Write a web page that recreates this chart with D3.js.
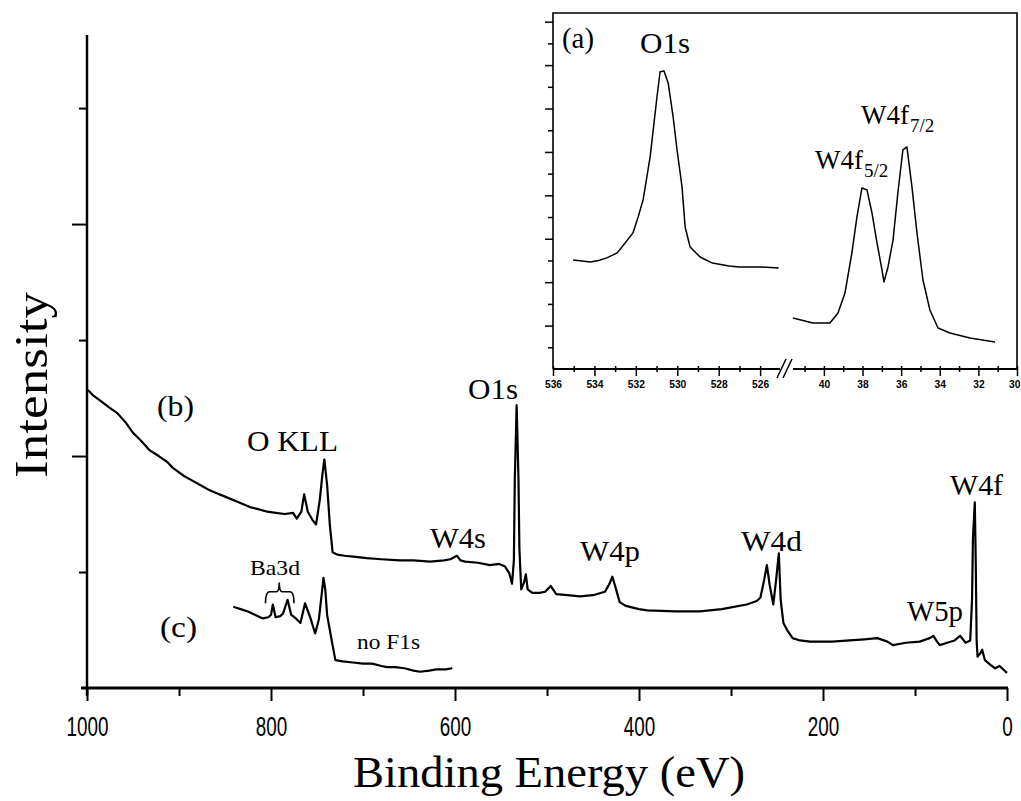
<!DOCTYPE html>
<html>
<head>
<meta charset="utf-8">
<script src="https://cdn.jsdelivr.net/npm/d3@7"></script>
<style>
body { margin: 0; background: #fff; }
svg { display: block; }
</style>
</head>
<body>
<div id="chart"></div>
<script>
// survey spectra: [binding energy (eV), intensity (arb. units)]
var surveyB = [
  [999, 2.57], [993, 2.52], [986, 2.48], [976, 2.42], [967, 2.37], [958, 2.29],
  [950, 2.20], [941, 2.13], [932, 2.05], [922, 2.00], [913, 1.95], [907, 1.90],
  [895, 1.83], [886, 1.79], [877, 1.75], [868, 1.71], [859, 1.68], [850, 1.65],
  [841, 1.62], [832, 1.59], [823, 1.56], [813, 1.54], [804, 1.52], [795, 1.51],
  [785, 1.50], [776, 1.51], [772, 1.46], [767, 1.52], [764, 1.67], [760, 1.52],
  [755, 1.45], [751, 1.41], [747, 1.62], [744, 1.85], [742, 1.97], [739, 1.75],
  [736, 1.40], [733, 1.17], [728, 1.15], [720, 1.14], [708, 1.13], [696, 1.12],
  [680, 1.11], [660, 1.10], [645, 1.10], [627, 1.09], [612, 1.10], [605, 1.11],
  [598, 1.14], [594, 1.10], [589, 1.09], [575, 1.08], [562, 1.06], [552, 1.07],
  [546, 1.05], [541, 0.99], [538, 0.90], [536, 1.10], [535, 1.80], [533, 2.44],
  [531, 1.80], [530, 1.20], [528, 0.85], [525, 0.91], [523, 0.98], [521, 0.85],
  [516, 0.82], [508, 0.82], [502, 0.83], [496, 0.88], [490, 0.81], [478, 0.80],
  [464, 0.79], [450, 0.80], [437, 0.83], [432, 0.90], [429, 0.96], [426, 0.88],
  [421, 0.74], [415, 0.71], [410, 0.70], [400, 0.68], [391, 0.67], [360, 0.66],
  [334, 0.66], [310, 0.68], [283, 0.72], [272, 0.75], [268, 0.78], [264, 0.93],
  [261, 1.06], [258, 0.89], [254, 0.72], [251, 0.93], [248, 1.16], [246, 0.76],
  [243, 0.56], [239, 0.50], [233, 0.43], [225, 0.41], [214, 0.40], [190, 0.40],
  [171, 0.41], [155, 0.42], [141, 0.43], [130, 0.40], [124, 0.37], [110, 0.39],
  [95, 0.40], [84, 0.43], [80, 0.45], [76, 0.40], [73, 0.37], [65, 0.39],
  [57, 0.41], [51, 0.45], [45, 0.39], [40, 0.41], [38, 0.76], [37, 1.30],
  [35, 1.60], [34, 1.10], [33, 0.41], [32, 0.27], [29, 0.30], [27, 0.33],
  [24, 0.24], [18, 0.20], [13, 0.17], [8, 0.19], [4, 0.16], [0, 0.13]
];
var surveyC = [
  [841, 0.70], [833, 0.68], [825, 0.66], [817, 0.63], [809, 0.60], [803, 0.61],
  [800, 0.63], [798, 0.72], [795, 0.61], [790, 0.62], [787, 0.64], [782, 0.76],
  [778, 0.63], [773, 0.60], [768, 0.56], [763, 0.73], [757, 0.60], [752, 0.47],
  [748, 0.59], [745, 0.80], [743, 0.95], [741, 0.85], [739, 0.63], [734, 0.41],
  [730, 0.24], [722, 0.23], [711, 0.22], [700, 0.21], [690, 0.21], [680, 0.19],
  [674, 0.18], [665, 0.18], [655, 0.17], [645, 0.15], [638, 0.14], [628, 0.15],
  [620, 0.16], [610, 0.16], [603, 0.17]
];
// inset (a): high resolution regions
var insetO1s = [
  [535.03, 5.02], [534.6, 4.98], [534.2, 4.93], [533.8, 5.00], [533.4, 5.12],
  [532.9, 5.35], [532.67, 5.62], [532.14, 6.27], [531.89, 7.00], [531.65, 7.79],
  [531.31, 9.77], [530.98, 12.53], [530.83, 13.69], [530.64, 13.73], [530.44, 13.18],
  [530.20, 11.61], [530.01, 10.09], [529.77, 8.39], [529.62, 6.54], [529.38, 5.62],
  [528.90, 5.16], [528.3, 4.88], [527.5, 4.75], [527.0, 4.70], [526.0, 4.70],
  [525.1, 4.65]
];
var insetW4f = [
  [41.6, 2.35], [40.57, 2.12], [39.69, 2.12], [39.27, 2.58], [38.91, 3.50],
  [38.55, 5.35], [38.29, 7.00], [38.03, 8.34], [37.77, 8.25], [37.51, 7.19],
  [37.25, 5.81], [36.99, 4.56], [36.89, 4.01], [36.68, 4.70], [36.42, 5.94],
  [36.17, 8.11], [35.91, 10.09], [35.70, 10.23], [35.44, 8.39], [35.18, 6.27],
  [34.87, 4.10], [34.51, 2.72], [34.09, 1.89], [33.47, 1.66], [32.44, 1.43],
  [31.14, 1.24]
];
var mainXMajor = [1000, 800, 600, 400, 200, 0];
var mainXMinor = [900, 700, 500, 300, 100];
var mainYMajor = [2, 4];
var mainYMinor = [1, 3, 5];
var insetYTicks = d3.range(1, 17);
var insetLeftTicks = d3.range(526, 537);
var insetRightTicks = d3.range(30, 42);

var W = 1021, H = 801;
var serif = '"Liberation Serif", "Times New Roman", serif';
var sans = '"Liberation Sans", Arial, sans-serif';

var svg = d3.select("#chart").append("svg")
    .attr("width", W)
    .attr("height", H);

// main plot scales
var x = d3.scaleLinear().domain([1000, 0]).range([87, 1007]);
var y = d3.scaleLinear().domain([0, 5.63]).range([688, 35]);

var line = d3.line()
    .x(function (d) { return x(d[0]); })
    .y(function (d) { return y(d[1]); });

// x axis: minor and major ticks
var xMinor = svg.append("g")
    .attr("transform", "translate(0," + y(0) + ")")
    .call(d3.axisBottom(x).tickValues(mainXMinor).tickSize(8).tickFormat(""));
var xMajor = svg.append("g")
    .attr("transform", "translate(0," + y(0) + ")")
    .call(d3.axisBottom(x).tickValues(mainXMajor).tickSize(13).tickPadding(16).tickFormat(d3.format("d")));
[xMinor, xMajor].forEach(function (g) {
    g.select(".domain").remove();
    g.selectAll(".tick line").attr("stroke", "#000").attr("stroke-width", 2);
});
xMajor.selectAll(".tick text")
    .attr("font-family", sans)
    .attr("font-size", 27)
    .attr("fill", "#000")
    .attr("textLength", function (d) { return String(d).length * 10.5; })
    .attr("lengthAdjust", "spacingAndGlyphs");

// y axis
var yMinor = svg.append("g")
    .attr("transform", "translate(" + x(1000) + ",0)")
    .call(d3.axisLeft(y).tickValues(mainYMinor).tickSize(8).tickFormat(""));
var yMajor = svg.append("g")
    .attr("transform", "translate(" + x(1000) + ",0)")
    .call(d3.axisLeft(y).tickValues(mainYMajor).tickSize(15).tickFormat(""));
[yMinor, yMajor].forEach(function (g) {
    g.select(".domain").remove();
    g.selectAll(".tick line").attr("stroke", "#000").attr("stroke-width", 2);
});

svg.append("line")
    .attr("x1", x(1000) - 6).attr("x2", x(0) + 1)
    .attr("y1", y(0)).attr("y2", y(0))
    .attr("stroke", "#000").attr("stroke-width", 3);
svg.append("line")
    .attr("x1", x(1000)).attr("x2", x(1000))
    .attr("y1", y(5.63)).attr("y2", y(0) + 8)
    .attr("stroke", "#000").attr("stroke-width", 2.5);

// spectra
svg.append("path").datum(surveyB)
    .attr("d", line)
    .attr("fill", "none").attr("stroke", "#000")
    .attr("stroke-width", 2.2).attr("stroke-linejoin", "round");
svg.append("path").datum(surveyC)
    .attr("d", line)
    .attr("fill", "none").attr("stroke", "#000")
    .attr("stroke-width", 2.2).attr("stroke-linejoin", "round");

// axis titles
svg.append("text")
    .attr("x", 549).attr("y", 787)
    .attr("text-anchor", "middle")
    .attr("font-family", serif).attr("font-size", 45)
    .attr("textLength", 392).attr("lengthAdjust", "spacingAndGlyphs")
    .text("Binding Energy (eV)");
svg.append("text")
    .attr("transform", "translate(47,385) rotate(-90)")
    .attr("text-anchor", "middle")
    .attr("font-family", serif).attr("font-size", 46)
    .attr("textLength", 186).attr("lengthAdjust", "spacingAndGlyphs")
    .text("Intensity");

// peak labels on the survey
function label(txt, px, py, size, len) {
    var t = svg.append("text")
        .attr("x", px).attr("y", py)
        .attr("font-family", serif).attr("font-size", size)
        .attr("fill", "#000")
        .text(txt);
    if (len) t.attr("textLength", len).attr("lengthAdjust", "spacingAndGlyphs");
    return t;
}
label("(b)", 157, 416, 30, 37);
label("O KLL", 247, 451, 30, 91);
label("O1s", 468, 399, 30, 50);
label("W4s", 430, 548, 30, 56);
label("W4p", 580, 561, 30, 60);
label("W4d", 741, 551, 30, 61);
label("W5p", 907, 621, 30, 56);
label("W4f", 950, 495, 30, 53);
label("(c)", 160, 637, 30, 37);
label("Ba3d", 250, 575, 22, 50);
label("no F1s", 357, 649, 20, 63);

// Ba3d bracket
var bl = x(806), bc = x(791), br = x(775);
svg.append("path")
    .attr("d", "M" + bl + "," + (y(0.74) + 1) + " Q" + bl + "," + y(0.83) + " " + (bl + 4) + "," + y(0.83) +
               " L" + (bc - 3) + "," + y(0.83) + " Q" + bc + "," + y(0.83) + " " + bc + "," + y(0.91) +
               " Q" + bc + "," + y(0.83) + " " + (bc + 3) + "," + y(0.83) +
               " L" + (br - 4) + "," + y(0.83) + " Q" + br + "," + y(0.83) + " " + br + "," + (y(0.74) + 1))
    .attr("fill", "none").attr("stroke", "#000").attr("stroke-width", 1.6);

// ---------------- inset (a) ----------------
var xl = d3.scaleLinear().domain([536, 525.04]).range([553, 780]);
var xr = d3.scaleLinear().domain([41.6, 30]).range([793, 1017]);
var yi = d3.scaleLinear().domain([0, 16.4]).range([369, 13]);

var inset = svg.append("g");

// frame
inset.append("path")
    .attr("d", "M" + xl(536) + "," + yi(0) + " V" + yi(16.4) + " H" + xr(30) + " V" + yi(0))
    .attr("fill", "none").attr("stroke", "#000").attr("stroke-width", 1.6);
inset.append("line")
    .attr("x1", xl(536)).attr("x2", xl(525.04)).attr("y1", yi(0)).attr("y2", yi(0))
    .attr("stroke", "#000").attr("stroke-width", 2);
inset.append("line")
    .attr("x1", xr(41.6)).attr("x2", xr(30)).attr("y1", yi(0)).attr("y2", yi(0))
    .attr("stroke", "#000").attr("stroke-width", 2);
// axis break marks
inset.append("path")
    .attr("d", "M" + (xl(525.04) - 3) + "," + (yi(0) + 9) + " l9,-19 M" + (xl(525.04) + 3) + "," + (yi(0) + 9) + " l9,-19")
    .attr("fill", "none").attr("stroke", "#000").attr("stroke-width", 1.5);

var il = inset.append("g")
    .attr("transform", "translate(" + xl(536) + ",0)")
    .call(d3.axisLeft(yi).tickValues(insetYTicks)
        .tickSize(0).tickFormat(""));
il.select(".domain").remove();
il.selectAll(".tick line")
    .attr("x2", function (d) { return d % 2 === 0 ? -8 : -5; })
    .attr("stroke", "#000").attr("stroke-width", 1.5);

function insetBottom(scale, ticks) {
    var g = inset.append("g")
        .attr("transform", "translate(0," + yi(0) + ")")
        .call(d3.axisBottom(scale).tickValues(ticks).tickSize(0).tickPadding(11)
            .tickFormat(function (d) { return d % 2 === 0 ? d : ""; }));
    g.select(".domain").remove();
    g.selectAll(".tick line")
        .attr("y1", -3)
        .attr("y2", function (d) { return d % 2 === 0 ? 7 : 3; })
        .attr("stroke", "#000").attr("stroke-width", 1.5);
    g.selectAll(".tick text")
        .attr("font-family", sans).attr("font-size", 11).attr("font-weight", "bold")
        .attr("fill", "#000")
        .attr("textLength", function (d) { return String(d).length * 5.7; })
        .attr("lengthAdjust", "spacingAndGlyphs");
    return g;
}
insetBottom(xl, insetLeftTicks);
var ir = insetBottom(xr, insetRightTicks);
// last label sits against the page edge
ir.selectAll(".tick text").filter(function (d) { return d === 30; })
    .attr("text-anchor", "end").attr("x", 3);

inset.append("path").datum(insetO1s)
    .attr("d", d3.line().x(function (d) { return xl(d[0]); }).y(function (d) { return yi(d[1]); }))
    .attr("fill", "none").attr("stroke", "#000").attr("stroke-width", 1.5)
    .attr("stroke-linejoin", "round");
inset.append("path").datum(insetW4f)
    .attr("d", d3.line().x(function (d) { return xr(d[0]); }).y(function (d) { return yi(d[1]); }))
    .attr("fill", "none").attr("stroke", "#000").attr("stroke-width", 1.5)
    .attr("stroke-linejoin", "round");

label("(a)", 562, 48, 30, 32);
label("O1s", 640, 53, 29, 50);

// W4f with spin-orbit subscript, drawn as two texts side by side
function subLabel(px, py, sub) {
    var main = label("W4f", px, py, 27);
    var w = main.node().getComputedTextLength();
    label(sub, px + w + 1, py + 8, 19);
}
subLabel(861, 124, "7/2");
subLabel(815, 169, "5/2");
</script>
</body>
</html>
